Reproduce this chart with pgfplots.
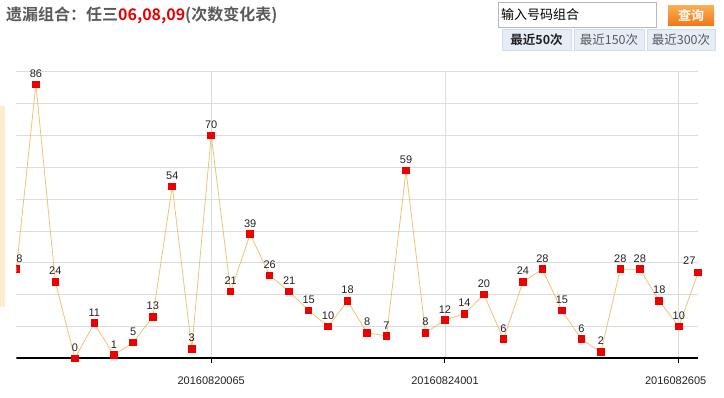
\documentclass[border=0pt]{standalone}
\usepackage{pgfplots}
\pgfplotsset{compat=1.18}
\usepackage{pgfplotstable}
\usepackage{fontspec}
\setmainfont{Liberation Sans}
\newfontfamily\cjk[BoldFont={Noto Sans CJK SC Bold}]{Noto Sans CJK SC}
\definecolor{linec}{HTML}{F0C274}
\definecolor{markc}{HTML}{EE0000}
\definecolor{gridc}{HTML}{DCDCDC}
\definecolor{txt}{HTML}{222222}
\definecolor{titleg}{HTML}{5A5A5A}
\definecolor{titler}{HTML}{E60000}
\definecolor{beige}{HTML}{FDEBCD}
\definecolor{tabbg}{HTML}{E6EDF7}
\definecolor{tabbd}{HTML}{D2DDEB}
\definecolor{btntop}{HTML}{F9AE52}
\definecolor{btnbot}{HTML}{EF7616}

\pgfplotstableread{
x y
0 28
1 86
2 24
3 0
4 11
5 1
6 5
7 13
8 54
9 3
10 70
11 21
12 39
13 26
14 21
15 15
16 10
17 18
18 8
19 7
20 59
21 8
22 12
23 14
24 20
25 6
26 24
27 28
28 15
29 6
30 2
31 28
32 28
33 18
34 10
35 27
}\datatable

\begin{document}
\begin{tikzpicture}
\path[use as bounding box] (0,0) rectangle (724pt,397pt);
% left decoration band
\fill[beige] (0,90pt) rectangle (5pt,291pt);
% title
\node[anchor=west, inner sep=0] at (6pt,382pt) {\cjk\bfseries\fontsize{16}{16}\selectfont\color{titleg}遗漏组合：任三\textcolor{titler}{06,08,09}(次数变化表)};
% input box
\draw[fill=white, draw=gray!55] (498.5pt,370pt) rectangle (656pt,395pt);
\node[anchor=west, inner sep=0] at (501pt,382pt) {\cjk\fontsize{13}{13}\selectfont\color{black}输入号码组合};
% button
\shade[top color=btntop, bottom color=btnbot] (668pt,371pt) rectangle (714pt,391pt);
\node[inner sep=0] at (691pt,381pt) {\cjk\bfseries\fontsize{13}{13}\selectfont\color{white}查询};
% tabs
\draw[fill=tabbg, draw=tabbd] (502pt,347pt) rectangle (571pt,368pt);
\draw[fill=tabbg, draw=tabbd] (574pt,347pt) rectangle (644pt,368pt);
\draw[fill=tabbg, draw=tabbd] (647pt,347pt) rectangle (715pt,368pt);
\node[inner sep=0] at (536.5pt,357.5pt) {\cjk\bfseries\fontsize{12.5}{12.5}\selectfont\color{txt}最近50次};
\node[inner sep=0] at (609pt,357.5pt) {\cjk\fontsize{12.5}{12.5}\selectfont\color{titleg}最近150次};
\node[inner sep=0] at (681pt,357.5pt) {\cjk\fontsize{12.5}{12.5}\selectfont\color{titleg}最近300次};
\begin{axis}[
  at={(16.4pt,32.33pt)}, anchor=south west,
  scale only axis, width=687.7pt, height=299.3pt,
  xmin=0, xmax=35.3, ymin=-2, ymax=92,
  /pgf/number format/assume math mode=true,
  axis x line=middle, axis y line=none,
  x axis line style={draw=none},
  xtick={10,22,34},
  xticklabels={20160820065,20160824001,2016082605\phantom{1}},
  xtick align=outside,
  major tick length=5pt,
  xtick style={black, line width=1pt},
  xticklabel style={font=\fontsize{11}{11}\selectfont, text=txt, anchor=north, yshift=-10pt},
  clip mode=global, clip marker paths=true,
]
% grid
\draw[gridc, line width=0.8pt] (axis cs:0,10) -- (axis cs:35,10);
\draw[gridc, line width=0.8pt] (axis cs:0,20) -- (axis cs:35,20);
\draw[gridc, line width=0.8pt] (axis cs:0,30) -- (axis cs:35,30);
\draw[gridc, line width=0.8pt] (axis cs:0,40) -- (axis cs:35,40);
\draw[gridc, line width=0.8pt] (axis cs:0,50) -- (axis cs:35,50);
\draw[gridc, line width=0.8pt] (axis cs:0,60) -- (axis cs:35,60);
\draw[gridc, line width=0.8pt] (axis cs:0,70) -- (axis cs:35,70);
\draw[gridc, line width=0.8pt] (axis cs:0,80) -- (axis cs:35,80);
\draw[gridc, line width=0.8pt] (axis cs:0,90) -- (axis cs:35,90);
\draw[gridc, line width=0.8pt] (axis cs:10,0) -- (axis cs:10,90);
\draw[gridc, line width=0.8pt] (axis cs:22,0) -- (axis cs:22,90);
\draw[gridc, line width=0.8pt] (axis cs:34,0) -- (axis cs:34,90);
% bottom axis line
\draw[black, line width=2pt] (axis cs:0,0) -- (axis cs:35,0);
\addplot[linec, line width=0.8pt, mark=square*, mark size=3.3pt,
  mark options={fill=markc, draw=markc, line width=0pt}] table[x=x,y=y] {\datatable};
\addplot[draw=none, mark=none, restrict x to domain=0:34,
  nodes near coords,
  every node near coord/.append style={anchor=base, yshift=7pt, inner sep=0,
    font=\fontsize{11}{11}\selectfont, text=txt}] table[x=x,y=y] {\datatable};
\addplot[draw=none, mark=none, restrict x to domain=35:35,
  nodes near coords,
  every node near coord/.append style={anchor=base, yshift=8pt, xshift=-9pt, inner sep=0,
    font=\fontsize{11}{11}\selectfont, text=txt}] table[x=x,y=y] {\datatable};
\end{axis}
\end{tikzpicture}
\end{document}
